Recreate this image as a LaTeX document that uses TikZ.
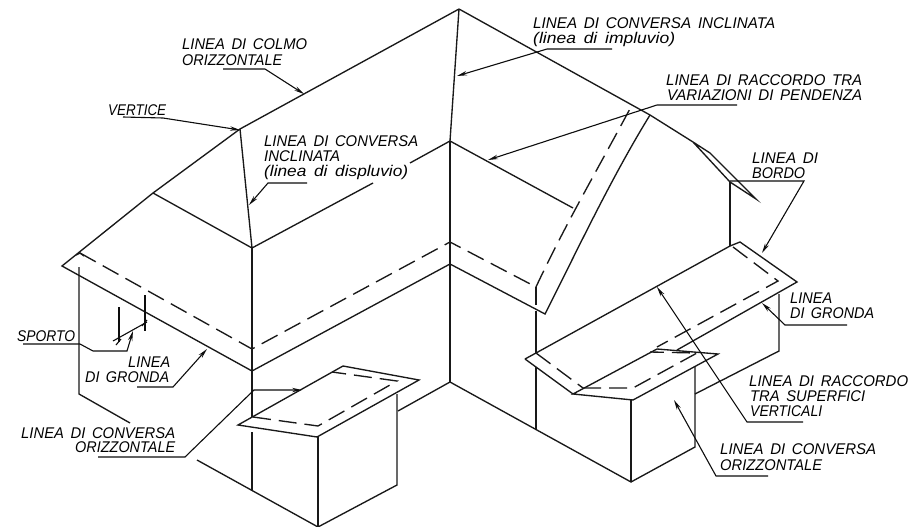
\documentclass[tikz,border=0pt]{standalone}
\usepackage{graphicx}
\usepackage{fontspec}
\setmainfont{Liberation Sans}[WordSpace=1.6]
\usetikzlibrary{arrows.meta}
\tikzset{
  edge/.style={line width=1.35pt,line join=miter,black!90},
  hidden/.style={line width=1.35pt,black!90,dash pattern=on 18pt off 8pt},
  leader/.style={line width=1.1pt,black!95,-{Stealth[length=10pt,width=4.4pt]}},
  tick/.style={line width=1.1pt,black!95},
  lab/.style={anchor=west,inner sep=0pt,font=\itshape\fontsize{15.5}{15.5}\selectfont,text=black}
}
\newcommand{\lbl}[5]{\node[lab] (#1) at (#2,#3) {\resizebox{#4pt}{\height}{#5}};}
\begin{document}
\begin{tikzpicture}[x=1pt,y=-1pt]
\useasboundingbox (0,0) rectangle (919,527);
% --- main roof
\draw[edge] (459,9) -- (240,129) -- (153,193) -- (62,266) -- (252,371) -- (450,264) -- (545,314)
  .. controls (575,255) and (610,180) .. (650,115);
\draw[edge] (459,9) -- (650,115) -- (693,142) -- (710,153) -- (756,199) -- (730,182) -- (693,142);
\draw[edge] (459,9) -- (450,141);
\draw[edge] (240,129) -- (252,248);
\draw[edge] (153,193) -- (252,248) -- (373,183);
\draw[edge] (410,163) -- (450,141) -- (573,208);
% --- walls
\draw[edge] (450,141) -- (450,382);
\draw[edge] (252,248) -- (252,417);
\draw[edge] (252,432) -- (252,490);
\draw[edge] (79,267) -- (79,394) -- (130,423);
\draw[edge] (197,460) -- (318,527) -- (397,485) -- (397,394);
\draw[edge] (398,411) -- (450,382) -- (631,482) -- (695,447) -- (695,367);
\draw[edge] (318,437) -- (318,527);
\draw[edge] (631,399) -- (631,482);
\draw[edge] (536,311) -- (536,353);
\draw[edge] (536,367) -- (536,430);
\draw[edge] (730,182) -- (730,246);
\draw[edge] (779,294) -- (779,351) -- (695,394);
% --- hidden (overhang) lines
\draw[hidden] (80,253) -- (252,349) -- (450,242) -- (536,287);
\draw[edge] (76,255) -- (80,253) -- (84,256);
\draw[hidden] (536,287) -- (536,305);
\draw[hidden] (536,287) .. controls (565,225) and (600,165) .. (632,105);
% --- left dormer roof
\draw[edge] (343,366) -- (419,380) -- (317,437) -- (238,425) -- cycle;
\draw[hidden] (253,417) -- (318,426) -- (397,381) -- (332,372);
% --- lower right roof
\draw[edge] (525,359) -- (536,353) -- (730,246) -- (740,242) -- (797,282) -- (677,350);
\draw[edge] (525,359) -- (573,394);
\draw[hidden] (536,353) -- (583,388);
\draw[hidden] (733,247) -- (778,281) -- (657,347);
% --- right dormer roof
\draw[edge] (573,394) -- (657,349) -- (718,354) -- (633,400) -- cycle;
\draw[hidden] (583,388) -- (633,388) -- (697,353) -- (650,352);
% --- sporto dimension
\draw[tick] (119,307) -- (119,342);
\draw[tick] (145,295) -- (145,331);
\draw[tick] (113,341) -- (147,322);
\draw[tick] (116,345) -- (121,339);
\draw[tick] (142,326) -- (147,320);
% --- labels
\lbl{colmoA}{182}{44}{125}{LINEA DI COLMO}
\lbl{colmoB}{182}{60}{100}{ORIZZONTALE}
\lbl{vertice}{108}{110}{58}{VERTICE}
\lbl{dispA}{264}{141}{154}{LINEA DI CONVERSA}
\lbl{dispB}{264}{156}{76}{INCLINATA}
\lbl{dispC}{264}{172}{144}{(linea di displuvio)}
\lbl{impA}{533}{23}{242}{LINEA DI CONVERSA INCLINATA}
\lbl{impB}{533}{39}{142}{(linea di impluvio)}
\lbl{racA}{666}{80}{196}{LINEA DI RACCORDO TRA}
\lbl{racB}{667}{95}{195}{VARIAZIONI DI PENDENZA}
\lbl{bordoA}{752}{158}{66}{LINEA DI}
\lbl{bordoB}{752}{173}{53}{BORDO}
\lbl{grdA}{790}{298}{42}{LINEA}
\lbl{grdB}{790}{313}{84}{DI GRONDA}
\lbl{supA}{749}{381}{159}{LINEA DI RACCORDO}
\lbl{supB}{750}{396}{115}{TRA SUPERFICI}
\lbl{supC}{750}{411}{72}{VERTICALI}
\lbl{conRA}{720}{449}{156}{LINEA DI CONVERSA}
\lbl{conRB}{720}{465}{102}{ORIZZONTALE}
\lbl{sporto}{17}{336}{58}{SPORTO}
\lbl{grlA}{128}{362}{42}{LINEA}
\lbl{grlB}{85}{377}{84}{DI GRONDA}
\lbl{conLA}{21}{433}{154}{LINEA DI CONVERSA}
\lbl{conLB}{75}{447}{100}{ORIZZONTALE}
% --- leader ends
\coordinate (c1) at (223,69);  \coordinate (t1) at (304,94);
\coordinate (c2) at (123,117); \coordinate (t2) at (240,130);
\coordinate (c3) at (307,183); \coordinate (t3) at (249,205);
\coordinate (c4) at (612,49);  \coordinate (t4) at (457,76);
\coordinate (c5) at (737,105); \coordinate (t5) at (488,160);
\coordinate (c6) at (730,181); \coordinate (t6) at (762,253);
\coordinate (c7) at (847,325); \coordinate (t7) at (762,303);
\coordinate (c8) at (803,422); \coordinate (t8) at (657,287);
\coordinate (c9) at (768,476); \coordinate (t9) at (674,400);
\coordinate (c10) at (23,344); \coordinate (t10) at (133,331);
\coordinate (c11) at (137,387);\coordinate (t11) at (207,349);
\coordinate (c12) at (98,457); \coordinate (t12) at (302,390);
% --- leaders
\draw[leader] (c1) -- (265,69) -- (t1);
\draw[leader] (c2) -- (163,118) -- (t2);
\draw[leader] (c3) -- (268,183) -- (t3);
\draw[leader] (c4) -- (547,49) -- (t4);
\draw[leader] (c5) -- (657,105) -- (t5);
\draw[leader] (c6) -- (804,181) -- (t6);
\draw[leader] (c7) -- (785,325) -- (t7);
\draw[leader] (c8) -- (747,422) -- (t8);
\draw[leader] (c9) -- (716,476) -- (t9);
\draw[leader] (c10) -- (80,344) -- (93,351) -- (127,351) -- (t10);
\draw[leader] (c11) -- (173,387) -- (t11);
\draw[leader] (c12) -- (185,457) -- (254,390) -- (t12);
\end{tikzpicture}
\end{document}
